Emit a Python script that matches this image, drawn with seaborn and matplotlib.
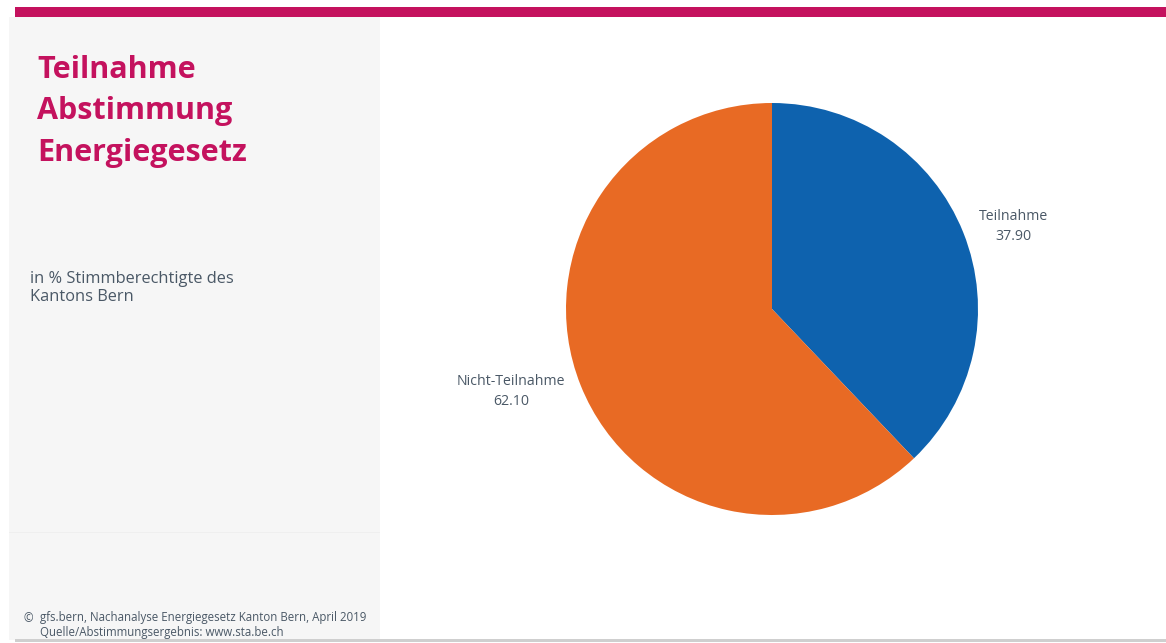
import matplotlib
matplotlib.use("Agg")
import matplotlib.pyplot as plt
from matplotlib.patches import Rectangle
import seaborn as sns

# Data
categories = ["Teilnahme", "Nicht-Teilnahme"]
values = [37.90, 62.10]
colors = ["#0E62AE", "#E86A24"]

title_lines = ["Teilnahme", "Abstimmung", "Energiegesetz"]
subtitle = "in % Stimmberechtigte des\nKantons Bern"
footer = "gfs.bern, Nachanalyse Energiegesetz Kanton Bern, April 2019\nQuelle/Abstimmungsergebnis: www.sta.be.ch"

sns.set_theme(style="white")
plt.rcParams['font.family'] = ['Open Sans', 'DejaVu Sans']

W, H = 1166, 643
fig = plt.figure(figsize=(W / 100, H / 100), dpi=100)
fig.patch.set_facecolor("white")

def fx(px):
    return px / W

def fy(py):
    return 1 - py / H

# Decorations
fig.add_artist(Rectangle((fx(9), fy(640)), fx(380) - fx(9), fy(17) - fy(640),
                         transform=fig.transFigure, facecolor="#F6F6F6", edgecolor="none", zorder=0))
fig.add_artist(Rectangle((fx(9), fy(533)), fx(380) - fx(9), fy(532) - fy(533),
                         transform=fig.transFigure, facecolor="#EFEFEF", edgecolor="none", zorder=0))
fig.add_artist(Rectangle((fx(15), fy(17)), 1 - fx(15), fy(7) - fy(17),
                         transform=fig.transFigure, facecolor="#C4125E", edgecolor="none", zorder=1))
fig.add_artist(Rectangle((fx(15), fy(642)), 1 - fx(15), fy(639) - fy(642),
                         transform=fig.transFigure, facecolor="#CFCFCF", edgecolor="none", zorder=1))

# Title
fig.text(fx(37), fy(55), "\n".join(title_lines), ha="left", va="top",
         fontsize=22, fontweight="bold", color="#C4125E", linespacing=1.5)
fig.text(fx(30), fy(271), subtitle, ha="left", va="top",
         fontsize=11.8, color="#4A5866", linespacing=1.2)
fig.text(fx(24), fy(619), "©", ha="left", va="center", fontsize=8.3, color="#4A5866")
fig.text(fx(40), fy(611), footer, ha="left", va="top", fontsize=8.3, color="#4A5866",
         linespacing=1.2)

# Pie
cx, cy, r = 772, 309, 206
ax = fig.add_axes([fx(cx - r), fy(cy + r), 2 * r / W, 2 * r / H])
ax.pie(values, labels=[f"{c}\n{v:.2f}" for c, v in zip(categories, values)],
       colors=colors, startangle=90, counterclock=False, labeldistance=1.08,
       wedgeprops=dict(linewidth=0),
       textprops=dict(fontsize=10.2, color="#4A5866", multialignment="center",
                      linespacing=1.5))
ax.set_xlim(-1, 1)
ax.set_ylim(-1, 1)
ax.set_aspect("auto")
ax.axis("off")

fig.savefig("out.png", dpi=100)
